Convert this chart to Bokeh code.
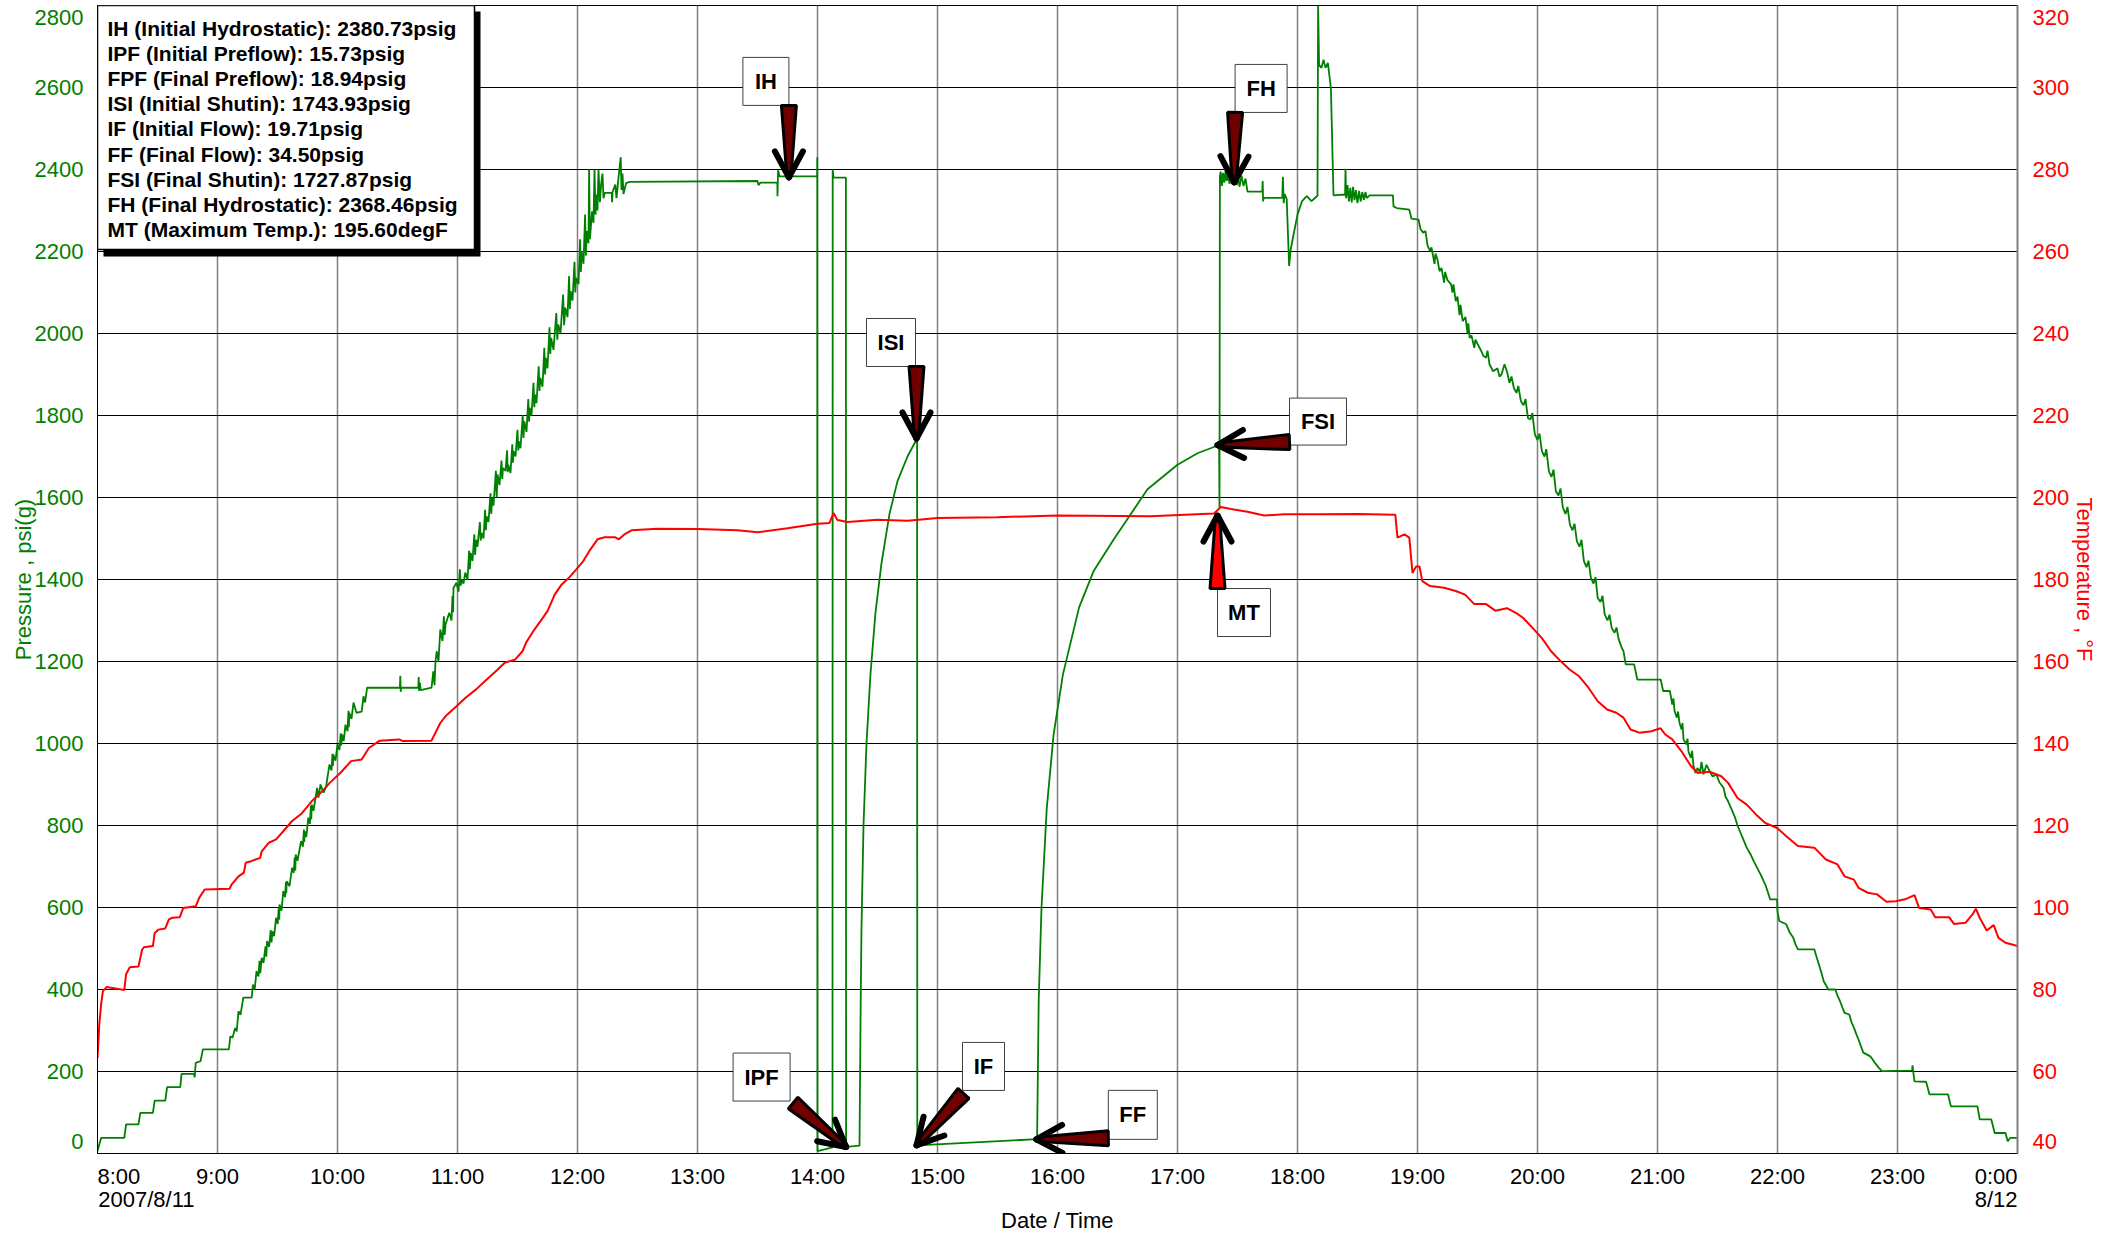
import numpy as np
from bokeh.plotting import figure
from bokeh.models import Range1d, LinearAxis, FixedTicker
from bokeh.embed import file_html
from bokeh.resources import INLINE
from bokeh.core.properties import value

# ---------------- data ----------------
hour_ticks = list(range(8, 25))
hour_labels = [f"{h % 24}:00" for h in hour_ticks]
date_start = "2007/8/11"
date_end = "8/12"
psi_ticks = list(range(0, 2801, 200))
temp_ticks = list(range(40, 321, 20))

pressure_run_in = [
    ("8:00", 6), ("8:00.9", 22), ("8:01.8", 38), ("8:13.4", 38), ("8:14.3", 71), ("8:20.5", 71),
    ("8:21.4", 99), ("8:27.7", 99), ("8:28.6", 129), ("8:33.9", 129), ("8:34.8", 162), ("8:41.4", 162),
    ("8:42.0", 194), ("8:48.2", 194), ("8:48.6", 186), ("8:49.1", 221), ("8:51.5", 225), ("8:52.7", 254),
    ("9:05.7", 254), ("9:06.4", 286), ("9:07.5", 282), ("9:08.8", 306), ("9:09.6", 298), ("9:10.5", 347),
    ("9:11.5", 338), ("9:12.9", 380), ("9:17.1", 380), ("9:17.7", 412), ("9:18.6", 400), ("9:19.5", 445),
    ("9:20.5", 432), ("9:21.0", 470), ("9:21.4", 440), ("9:22.1", 477), ("9:23.0", 465), ("9:24.0", 505),
    ("9:24.4", 480), ("9:24.8", 518), ("9:25.8", 504), ("9:26.6", 545), ("9:27.0", 515), ("9:27.5", 542),
    ("9:28.3", 530), ("9:29.3", 575), ("9:30.1", 560), ("9:30.6", 598), ("9:30.9", 570), ("9:31.0", 607),
    ("9:32.0", 592), ("9:32.9", 640), ("9:33.8", 625), ("9:34.2", 662), ("9:34.4", 635), ("9:34.6", 664),
    ("9:36.0", 652), ("9:37.3", 697), ("9:38.1", 684), ("9:38.6", 722), ("9:38.9", 690), ("9:39.1", 729),
    ("9:40.0", 714), ("9:41.8", 762), ("9:42.7", 748), ("9:43.2", 790), ("9:43.4", 760), ("9:43.6", 786),
    ("9:44.4", 772), ("9:45.4", 819), ("9:46.2", 804), ("9:46.7", 848), ("9:46.9", 815), ("9:47.1", 851),
    ("9:48.0", 836), ("9:49.8", 892), ("9:50.5", 868), ("9:51.5", 900), ("9:53.0", 880), ("9:54.3", 895),
    ("9:55.0", 918), ("9:56.0", 949), ("9:57.0", 934), ("9:57.5", 975), ("9:57.7", 945), ("9:57.9", 973),
    ("9:59.0", 958), ("10:00.0", 998), ("10:01.0", 984), ("10:01.6", 1025), ("10:01.9", 995),
    ("10:02.3", 1022), ("10:03.1", 1006), ("10:04.0", 1046), ("10:05.0", 1030), ("10:05.5", 1080),
    ("10:05.7", 1040), ("10:05.9", 1075), ("10:07.0", 1060), ("10:08.0", 1100), ("10:09.5", 1075),
    ("10:12.1", 1078), ("10:13.0", 1115), ("10:13.8", 1100), ("10:14.8", 1136),
    ("10:31.2", 1136), ("10:31.4", 1165), ("10:31.6", 1126), ("10:31.8", 1136), ("10:40.4", 1136),
    ("10:40.6", 1162), ("10:40.8", 1128), ("10:41.2", 1148), ("10:41.6", 1130), ("10:47.0", 1136),
    ("10:47.9", 1176), ("10:48.5", 1142), ("10:49.0", 1200), ("10:49.6", 1225),
]
pressure_ramp = [
    ("10:50.5", 1200), ("10:51.4", 1278), ("10:52.5", 1250), ("10:53.2", 1310), ("10:53.6", 1265),
    ("10:54.0", 1290), ("10:55.9", 1319), ("10:57.0", 1300), ("10:57.5", 1360), ("10:57.8", 1320),
    ("10:58.0", 1380), ("10:59.5", 1392), ("11:00.5", 1370), ("11:01.2", 1425), ("11:01.6", 1385),
    ("11:02.1", 1400), ("11:03.0", 1390), ("11:03.9", 1417), ("11:05.0", 1400), ("11:05.8", 1470),
    ("11:06.2", 1425), ("11:06.6", 1465), ("11:07.5", 1445), ("11:08.4", 1510), ("11:08.8", 1460),
    ("11:09.3", 1497), ("11:10.0", 1480), ("11:11.2", 1540), ("11:11.6", 1495), ("11:12.0", 1514),
    ("11:13.0", 1500), ("11:13.8", 1570), ("11:14.2", 1520), ("11:14.6", 1554), ("11:15.5", 1540),
    ("11:16.5", 1610), ("11:16.9", 1560), ("11:17.3", 1599), ("11:18.0", 1580), ("11:19.2", 1665),
    ("11:19.6", 1600), ("11:20.0", 1656), ("11:21.0", 1630), ("11:22.0", 1690), ("11:22.4", 1645),
    ("11:22.7", 1672), ("11:24.0", 1665), ("11:24.8", 1715), ("11:25.1", 1662), ("11:25.4", 1680),
    ("11:26.5", 1660), ("11:27.4", 1730), ("11:27.7", 1685), ("11:28.0", 1713), ("11:29.0", 1700),
    ("11:30.0", 1765), ("11:30.4", 1715), ("11:30.7", 1737), ("11:31.5", 1720), ("11:32.6", 1800),
    ("11:33.0", 1745), ("11:33.4", 1786), ("11:34.5", 1760), ("11:35.4", 1840), ("11:35.8", 1785),
    ("11:36.1", 1819), ("11:37.0", 1800), ("11:38.0", 1880), ("11:38.4", 1820), ("11:38.8", 1851),
    ("11:39.5", 1830), ("11:40.6", 1920), ("11:41.0", 1860), ("11:41.4", 1892), ("11:42.5", 1870),
    ("11:43.4", 1965), ("11:43.8", 1900), ("11:44.1", 1941), ("11:45.0", 1915), ("11:46.0", 2015),
    ("11:46.4", 1950), ("11:46.8", 1989), ("11:48.0", 1960), ("11:49.4", 2050), ("11:49.9", 1985),
    ("11:50.4", 2022), ("11:51.5", 2000), ("11:52.8", 2095), ("11:53.3", 2020), ("11:53.9", 2063),
    ("11:55.0", 2040), ("11:55.8", 2140), ("11:56.2", 2060), ("11:56.6", 2103), ("11:57.5", 2080),
    ("11:58.5", 2175), ("11:58.9", 2100), ("11:59.3", 2136), ("12:00.5", 2120), ("12:01.3", 2230),
    ("12:01.7", 2150), ("12:02.0", 2201), ("12:03.0", 2170), ("12:03.8", 2290), ("12:04.2", 2190),
    ("12:04.6", 2250), ("12:05.5", 2220), ("12:05.8", 2400), ("12:06.2", 2230), ("12:07.3", 2298),
    ("12:08.0", 2270), ("12:08.5", 2400), ("12:09.0", 2290), ("12:09.6", 2339), ("12:10.0", 2300),
    ("12:10.5", 2400), ("12:11.2", 2320), ("12:11.8", 2363), ("12:12.5", 2390), ("12:13.0", 2330),
    ("12:13.6", 2343), ("12:17.1", 2343), ("12:17.3", 2320), ("12:17.5", 2345), ("12:18.9", 2363),
    ("12:19.5", 2330), ("12:20.5", 2380), ("12:21.6", 2430), ("12:22.0", 2350), ("12:22.5", 2390),
    ("12:23.0", 2340), ("12:24.3", 2367), ("12:26.0", 2370),
]
pressure_tests = [
    ("13:30.0", 2372), ("13:30.5", 2362), ("13:31.5", 2368), ("13:39.9", 2368), ("13:40.0", 2335),
    ("13:40.3", 2398), ("13:41.0", 2383), ("13:59.8", 2383), ("13:59.9", 2430), ("14:00.0", 6),
    ("14:07.5", 15), ("14:07.6", 2400), ("14:08.0", 2380), ("14:14.2", 2380), ("14:14.3", 16),
    ("14:21.0", 19), ("14:21.6", 372), ("14:22.0", 550), ("14:23.0", 800), ("14:24.5", 1000),
    ("14:26.5", 1170), ("14:29.0", 1320), ("14:32.0", 1440), ("14:36.0", 1560), ("14:40.0", 1640),
    ("14:45.0", 1700), ("14:49.8", 1744), ("14:49.9", 20), ("15:49.8", 35), ("15:50.6", 372),
    ("15:52.0", 600), ("15:54.6", 840), ("15:58.0", 1020), ("16:02.7", 1168), ("16:10.8", 1332),
    ("16:18.0", 1420), ("16:28.0", 1497), ("16:45.0", 1620), ("17:00.0", 1680), ("17:10.0", 1708),
    ("17:20.8", 1728), ("17:21.0", 1575),
]
pressure_final = [
    ("17:21.2", 2384), ("17:21.6", 2395), ("17:22.2", 2360), ("17:22.8", 2392), ("17:23.4", 2368),
    ("17:24.0", 2396), ("17:24.6", 2372), ("17:25.3", 2390), ("17:26.0", 2365), ("17:26.8", 2385),
    ("17:27.5", 2372), ("17:28.3", 2370), ("17:29.0", 2392), ("17:29.6", 2362), ("17:30.3", 2380),
    ("17:31.0", 2358), ("17:32.0", 2385), ("17:33.0", 2360), ("17:34.0", 2378), ("17:35.0", 2346),
    ("17:42.4", 2346), ("17:42.6", 2372), ("17:42.8", 2322), ("17:43.1", 2331), ("17:52.4", 2331),
    ("17:52.7", 2382), ("17:53.1", 2318), ("17:53.6", 2340), ("17:54.6", 2328), ("17:55.8", 2165),
    ("17:56.6", 2205), ("17:57.7", 2233), ("18:00.0", 2290), ("18:02.3", 2323), ("18:04.6", 2335),
    ("18:07.0", 2323), ("18:09.3", 2333), ("18:10.0", 2336), ("18:10.3", 2800), ("18:10.8", 2655),
    ("18:12.0", 2648), ("18:13.0", 2668), ("18:14.0", 2648), ("18:15.2", 2660), ("18:16.7", 2598),
    ("18:18.0", 2337), ("18:23.8", 2339), ("18:24.0", 2402), ("18:24.3", 2330), ("18:25.0", 2362),
    ("18:25.7", 2322), ("18:26.4", 2355), ("18:27.1", 2320), ("18:27.8", 2358), ("18:28.5", 2325),
    ("18:29.2", 2350), ("18:30.0", 2318), ("18:30.8", 2348), ("18:31.6", 2322), ("18:32.4", 2345),
    ("18:33.2", 2326), ("18:34.0", 2345), ("18:34.6", 2330), ("18:36.0", 2337), ("18:47.7", 2337),
    ("18:48.0", 2310), ("18:49.6", 2306), ("18:55.9", 2302), ("18:57.0", 2280), ("19:00.5", 2278),
]
pressure_pull_out = [
    ("19:01.5", 2255), ("19:02.8", 2246), ("19:04.0", 2250), ("19:05.0", 2215), ("19:06.3", 2201),
    ("19:07.0", 2210), ("19:08.5", 2170), ("19:09.0", 2195), ("19:10.0", 2180), ("19:11.0", 2152),
    ("19:12.0", 2160), ("19:13.3", 2124), ("19:13.8", 2150), ("19:15.0", 2130), ("19:16.8", 2120),
    ("19:17.5", 2100), ("19:18.0", 2120), ("19:19.1", 2079), ("19:20.0", 2090), ("19:21.0", 2045),
    ("19:21.5", 2070), ("19:22.6", 2030), ("19:24.0", 2040), ("19:25.0", 2000), ("19:25.4", 2025),
    ("19:26.1", 1989), ("19:27.0", 1995), ("19:28.4", 1965), ("19:29.0", 1985), ("19:30.0", 1975),
    ("19:31.9", 1957), ("19:33.0", 1945), ("19:34.3", 1941), ("19:35.0", 1958), ("19:36.0", 1925),
    ("19:37.8", 1908), ("19:40.0", 1915), ("19:41.0", 1895), ("19:42.0", 1900), ("19:43.5", 1925),
    ("19:44.7", 1908), ("19:46.0", 1880), ("19:47.0", 1895), ("19:48.2", 1867), ("19:49.5", 1855),
    ("19:50.4", 1872), ("19:51.7", 1835), ("19:53.0", 1825), ("19:54.0", 1840), ("19:55.2", 1794),
    ("19:56.5", 1790), ("19:57.4", 1806), ("19:58.7", 1754), ("20:00.0", 1740), ("20:01.0", 1756),
    ("20:02.2", 1713), ("20:03.5", 1700), ("20:04.4", 1718), ("20:05.7", 1664), ("20:07.0", 1650),
    ("20:08.0", 1668), ("20:09.2", 1615), ("20:10.5", 1605), ("20:11.5", 1622), ("20:12.7", 1575),
    ("20:14.0", 1560), ("20:15.0", 1577), ("20:16.2", 1534), ("20:17.5", 1520), ("20:18.5", 1536),
    ("20:19.7", 1493), ("20:21.0", 1480), ("20:22.0", 1497), ("20:23.2", 1445), ("20:24.5", 1430),
    ("20:25.5", 1446), ("20:26.7", 1404), ("20:28.0", 1390), ("20:29.0", 1406), ("20:30.1", 1355),
    ("20:31.5", 1345), ("20:32.5", 1360), ("20:33.6", 1315), ("20:35.0", 1300), ("20:36.0", 1314),
    ("20:37.1", 1282), ("20:38.5", 1270), ("20:39.5", 1283), ("20:40.6", 1254), ("20:42.0", 1235),
    ("20:43.0", 1225), ("20:44.1", 1193), ("20:48.3", 1193), ("20:49.9", 1156), ("21:01.6", 1156),
    ("21:02.8", 1128), ("21:06.2", 1128), ("21:07.4", 1095), ("21:08.0", 1110), ("21:08.5", 1080),
    ("21:09.7", 1063), ("21:10.3", 1078), ("21:11.0", 1050), ("21:12.0", 1034), ("21:12.5", 1050),
    ("21:13.0", 1010), ("21:14.4", 998), ("21:15.0", 1012), ("21:15.5", 980), ("21:16.7", 965),
    ("21:17.3", 982), ("21:18.0", 945), ("21:19.0", 928), ("21:20.0", 940), ("21:21.3", 930),
    ("21:22.0", 955), ("21:23.0", 925), ("21:24.5", 948), ("21:26.0", 933), ("21:27.5", 920),
    ("21:29.5", 924), ("21:31.0", 905), ("21:33.0", 892), ("21:34.0", 870), ("21:35.3", 859),
    ("21:37.0", 840), ("21:38.8", 819), ("21:40.0", 800), ("21:41.2", 786), ("21:43.0", 765),
    ("21:44.6", 746), ("21:46.5", 730), ("21:48.1", 713), ("21:50.0", 695), ("21:51.6", 680),
    ("21:53.0", 665), ("21:53.9", 656), ("21:55.0", 640), ("21:56.3", 620), ("21:59.8", 620),
    ("22:00.0", 590), ("22:00.9", 567), ("22:04.4", 559), ("22:06.0", 540), ("22:07.9", 526),
    ("22:09.0", 510), ("22:10.2", 498), ("22:18.4", 498), ("22:19.5", 480), ("22:20.7", 461),
    ("22:22.0", 440), ("22:23.1", 420), ("22:25.4", 400), ("22:28.9", 400), ("22:30.0", 385),
    ("22:31.2", 372), ("22:33.5", 343), ("22:35.9", 339), ("22:37.0", 320), ("22:38.2", 307),
    ("22:39.5", 290), ("22:40.5", 278), ("22:42.9", 246), ("22:46.4", 237), ("22:47.5", 230),
    ("22:48.7", 221), ("22:50.5", 210), ("22:52.2", 201), ("23:07.3", 202), ("23:07.5", 215),
    ("23:08.0", 195), ("23:08.5", 176), ("23:14.3", 175), ("23:16.0", 144), ("23:25.3", 144),
    ("23:26.7", 115), ("23:40.0", 115), ("23:41.1", 83), ("23:46.9", 83), ("23:48.6", 50),
    ("23:54.0", 50), ("23:55.1", 30), ("23:56.3", 38), ("24:00.0", 38),
]

temp_run_in = [
    ("8:00", 63.3), ("8:00.9", 71.5), ("8:01.8", 76.3), ("8:02.7", 79.6), ("8:04.5", 80.6),
    ("8:13.4", 79.9), ("8:14.3", 83.7), ("8:16.1", 85.4), ("8:20.5", 85.6), ("8:22.3", 89.7),
    ("8:23.2", 90.3), ("8:27.7", 90.6), ("8:28.6", 93.8), ("8:30.4", 94.6), ("8:33.9", 94.9),
    ("8:35.7", 97.1), ("8:37.5", 97.5), ("8:41.1", 97.6), ("8:42.9", 99.9), ("8:49.1", 100.3),
    ("8:50.9", 102.4), ("8:53.6", 104.4), ("9:06.1", 104.6), ("9:07.0", 105.6), ("9:10.5", 107.6),
    ("9:13.2", 108.5), ("9:14.1", 110.9), ("9:16.8", 111.3), ("9:21.3", 112.1), ("9:22.1", 113.7),
    ("9:25.7", 115.8), ("9:29.3", 116.6), ("9:32.9", 118.6), ("9:37.3", 121.1), ("9:41.8", 122.8),
    ("9:47.1", 125.9), ("9:52.5", 128.4), ("9:56.1", 130.4), ("10:01.4", 132.8), ("10:06.8", 135.7),
    ("10:12.1", 136.1), ("10:15.7", 138.9), ("10:21.1", 140.7), ("10:30.9", 141.0), ("10:32.7", 140.6),
    ("10:47.0", 140.7), ("10:51.4", 145.0), ("10:54.1", 146.7), ("10:59.5", 149.1), ("11:03.9", 151.1),
    ("11:09.3", 153.2), ("11:14.6", 155.6), ("11:20.0", 158.0), ("11:23.6", 159.7), ("11:28.9", 160.5),
    ("11:32.5", 162.5), ("11:34.3", 164.6), ("11:37.9", 167.4), ("11:41.4", 169.8), ("11:45.0", 172.3),
    ("11:48.6", 176.3), ("11:52.1", 178.8), ("11:55.7", 180.4), ("11:59.3", 182.4), ("12:02.9", 184.5),
    ("12:06.4", 187.3), ("12:10.0", 189.8), ("12:13.6", 190.3), ("12:18.9", 190.3), ("12:20.7", 189.8),
    ("12:23.4", 191.0), ("12:27.0", 192.0),
]
temp_station = [
    ("12:40", 192.4), ("13:00", 192.3), ("13:20", 192.0), ("13:30", 191.5), ("13:45", 192.5),
    ("14:00", 193.6), ("14:06", 193.8), ("14:08", 196.2), ("14:10", 194.5), ("14:15", 194.0),
    ("14:30", 194.6), ("14:45", 194.3), ("15:00", 195.0), ("15:30", 195.2), ("16:00", 195.6),
    ("16:46.7", 195.4), ("17:18.3", 196.1), ("17:21.7", 197.7), ("17:26.7", 197.2), ("17:35.0", 196.5),
    ("17:43.3", 195.6), ("17:53.3", 195.9), ("18:10.0", 195.9), ("18:30.0", 196.0), ("18:48.9", 195.8),
]
temp_pull_out = [
    ("18:50.0", 190.2), ("18:53.5", 191.0), ("18:55.9", 190.2), ("18:57.5", 181.6), ("18:59.3", 183.2),
    ("19:01.0", 183.2), ("19:02.4", 179.6), ("19:06.3", 178.4), ("19:13.3", 178.0), ("19:19.1", 177.2),
    ("19:23.8", 176.3), ("19:28.4", 174.0), ("19:34.3", 174.0), ("19:38.9", 172.4), ("19:44.7", 173.0),
    ("19:49.4", 171.8), ("19:52.9", 170.6), ("19:57.5", 168.2), ("20:02.2", 165.7), ("20:06.8", 162.5),
    ("20:11.5", 160.1), ("20:16.2", 158.0), ("20:20.8", 156.4), ("20:25.5", 153.6), ("20:30.1", 150.3),
    ("20:34.8", 148.3), ("20:39.4", 147.5), ("20:43.0", 146.3), ("20:46.5", 143.4), ("20:51.2", 142.6),
    ("20:56.9", 143.0), ("21:01.6", 143.7), ("21:03.9", 142.2), ("21:07.4", 141.0), ("21:12.0", 138.1),
    ("21:16.7", 134.5), ("21:20.2", 132.8), ("21:26.0", 133.1), ("21:31.9", 132.0), ("21:35.3", 130.4),
    ("21:40.0", 126.7), ("21:44.6", 125.1), ("21:49.2", 122.7), ("21:53.9", 120.6), ("21:59.8", 119.4),
    ("22:04.4", 117.4), ("22:10.2", 115.0), ("22:18.4", 114.6), ("22:24.2", 111.7), ("22:30.0", 110.5),
    ("22:33.5", 107.6), ("22:38.2", 106.8), ("22:40.5", 104.8), ("22:45.2", 103.6), ("22:49.8", 103.2),
    ("22:54.5", 101.4), ("22:59.1", 101.5), ("23:03.8", 102.0), ("23:08.5", 103.0), ("23:10.8", 99.9),
    ("23:16.6", 99.5), ("23:18.9", 97.6), ("23:25.9", 97.6), ("23:28.2", 96.0), ("23:34.1", 96.3),
    ("23:37.5", 98.3), ("23:39.2", 99.7), ("23:41.1", 97.5), ("23:44.6", 94.4), ("23:48.1", 95.7),
    ("23:50.5", 92.6), ("23:54.0", 91.4), ("24:00.0", 90.6),
]

info_codes = ["IH", "IPF", "FPF", "ISI", "IF", "FF", "FSI", "FH", "MT"]
info_names = ["Initial Hydrostatic", "Initial Preflow", "Final Preflow", "Initial Shutin",
              "Initial Flow", "Final Flow", "Final Shutin", "Final Hydrostatic", "Maximum Temp."]
info_values = [2380.73, 15.73, 18.94, 1743.93, 19.71, 34.50, 1727.87, 2368.46, 195.60]
info_units = ["psig", "psig", "psig", "psig", "psig", "psig", "psig", "psig", "degF"]

marker_codes = ["IH", "IPF", "ISI", "IF", "FF", "FSI", "FH", "MT"]
marker_times = ["13:45.7", "14:14.3", "14:49.5", "14:49.5", "15:49.4", "17:20.0", "17:28.3", "17:20.0"]

# ---------------- layout (screen pixels) ----------------
GREEN = "#008000"
RED = "#FF0000"
FONT = "Liberation Sans"
W, H = 2114, 1237
BL, BR, BT, BB = 97, 97, 5, 84
FW, FH = W - BL - BR, H - BT - BB
X0, X1 = 8, 24
P0, P1 = 0, 2800
T0, T1 = 40, 320
HPX = (X1 - X0) / FW
PPX = (P1 - P0) / FH
TPX = (T1 - T0) / FH
NB = "\u00a0"
EDGE = 12  # end tick labels sit this many px inside the frame edge

# arrow tail offset and box (left, right, top, bottom) relative to the tip, px (y down)
marker_layout = {
    "IH": ((0, -72), (-46, 0, -120, -72), "#700000"),
    "IPF": ((-53, -44), (-113, -56, -94, -46), "#700000"),
    "ISI": ((0, -72), (-50, -1, -120, -72), "#700000"),
    "IF": ((47, -52), (46, 88, -103, -55), "#700000"),
    "FF": ((72, -1), (72, 121, -49, 0), "#700000"),
    "FSI": ((72, -3), (72, 129, -47, 0), "#700000"),
    "FH": ((1, -70), (1, 53, -118, -70), "#700000"),
    "MT": ((0, 73), (0, 53, 73, 121), "#FF0000"),
}


def to_hours(s):
    h, m = s.split(":")
    return int(h) + float(m) / 60.0


def series(*segs):
    pts = [pt for seg in segs for pt in seg]
    return [to_hours(t) for t, _ in pts], [v for _, v in pts]


def inset_ticks(ticks, per_px):
    # label positions: end labels nudged inside the frame; returns ticker values and overrides
    d = int(round(EDGE * per_px))
    pos = [ticks[0] + d] + ticks[1:-1] + [ticks[-1] - d]
    return pos, {q: str(t) for q, t in zip(pos, ticks)}


p_x, p_y = series(pressure_run_in, pressure_ramp, pressure_tests, pressure_final, pressure_pull_out)
t_x, t_y = series(temp_run_in, temp_station, temp_pull_out)

p = figure(width=W, height=H, x_range=Range1d(X0, X1), y_range=Range1d(P0, P1),
           output_backend="svg", toolbar_location=None,
           min_border_left=BL, min_border_right=BR, min_border_top=BT, min_border_bottom=BB)
p.extra_y_ranges = {"temp": Range1d(T0, T1)}
p.outline_line_color = "black"
p.outline_line_width = 1
p.background_fill_color = "white"
p.border_fill_color = "white"

# x axis labels: first / last tick carry the date and are aligned inside the frame
x_over = {h: lab for h, lab in zip(hour_ticks, hour_labels)}
x_over[X0] = NB * 7 + hour_labels[0] + "\n" + NB * 16 + date_start
x_over[X1] = hour_labels[-1] + NB * 7 + "\n" + date_end + NB * 7

xa = p.xaxis[0]
xa.ticker = FixedTicker(ticks=hour_ticks)
xa.major_label_overrides = x_over
xa.axis_label = "Date / Time"

psi_pos, psi_over = inset_ticks(psi_ticks, PPX)
ya = p.yaxis[0]
ya.ticker = FixedTicker(ticks=psi_pos)
ya.major_label_overrides = psi_over
ya.axis_label = "Pressure , psi(g)"

temp_pos, temp_over = inset_ticks(temp_ticks, TPX)
ra = LinearAxis(y_range_name="temp", axis_label="Temperature , °F")
ra.ticker = FixedTicker(ticks=temp_pos)
ra.major_label_overrides = temp_over
p.add_layout(ra, "right")

for ax, col in ((xa, "black"), (ya, GREEN), (ra, RED)):
    ax.major_tick_out = 0
    ax.major_tick_in = 0
    ax.minor_tick_out = 0
    ax.minor_tick_in = 0
    ax.major_label_text_font = FONT
    ax.major_label_text_font_size = "22px"
    ax.major_label_text_color = col
    ax.axis_label_text_font = FONT
    ax.axis_label_text_font_size = "22px"
    ax.axis_label_text_font_style = "normal"
    ax.axis_label_text_color = col
    ax.axis_line_color = "black"
xa.major_label_text_line_height = 0.93
ra.axis_line_color = "#808080"
ra.axis_line_width = 2
xa.major_label_standoff = 10
xa.axis_label_standoff = -7
ya.major_label_standoff = 14
ya.axis_label_standoff = -4
ra.major_label_standoff = 15
ra.axis_label_standoff = 0

p.xgrid.grid_line_color = "#808080"
p.xgrid.grid_line_width = 1.5
p.ygrid.ticker = FixedTicker(ticks=psi_ticks)
p.ygrid.grid_line_color = "black"
p.ygrid.grid_line_width = 1

# series
p.line(p_x, p_y, line_color=GREEN, line_width=1.8)
p.line(t_x, t_y, line_color=RED, line_width=2, y_range_name="temp")

# info box
bx_r, bx_b, sh = 377, 244, 6
p.quad(left=[X0 + sh * HPX], right=[X0 + (bx_r + sh) * HPX], top=[P1 - sh * PPX],
       bottom=[P1 - (bx_b + sh + 1) * PPX], fill_color="black", line_color=None)
p.quad(left=[X0], right=[X0 + bx_r * HPX], top=[P1], bottom=[P1 - bx_b * PPX],
       fill_color="white", line_color="black", line_width=1.5)
info_lines = [f"{c} ({n}): {v:.2f}{u}" for c, n, v, u in zip(info_codes, info_names, info_values, info_units)]
p.text(x=[X0 + 10 * HPX] * len(info_lines), y=[P1 - (23 + 25.1 * i) * PPX for i in range(len(info_lines))],
       text=info_lines, text_font=value(FONT), text_font_style="bold", text_font_size="21px",
       text_baseline="middle", text_align="left", text_color="black")

# markers: boxes, arrows, labels
box_l, box_r, box_t, box_b, box_cx, box_cy = [], [], [], [], [], []
shaft_xs, shaft_ys, shaft_cols, head_xs, head_ys = [], [], [], [], []
for code, tstr in zip(marker_codes, marker_times):
    tx = to_hours(tstr)
    v = info_values[info_codes.index(code)]
    ty = (v - T0) / (T1 - T0) * (P1 - P0) if code == "MT" else v
    (tdx, tdy), (l, r, t, b), col = marker_layout[code]
    box_l.append(tx + l * HPX); box_r.append(tx + r * HPX)
    box_t.append(ty - t * PPX); box_b.append(ty - b * PPX)
    box_cx.append(tx + (l + r) / 2 * HPX); box_cy.append(ty - (t + b) / 2 * PPX)
    S = np.array([tdx, tdy], float)
    u = -S / np.linalg.norm(S)
    n = np.array([-u[1], u[0]])
    w0, w1 = 15, 4
    poly = [S + n * w0 / 2, n * w1 / 2, -n * w1 / 2, S - n * w0 / 2]
    shaft_xs.append([tx + q[0] * HPX for q in poly])
    shaft_ys.append([ty - q[1] * PPX for q in poly])
    shaft_cols.append(col)
    hl, hw = 26, 14
    for sgn in (1, -1):
        e = -u * hl + sgn * n * hw
        head_xs.append([tx, tx + e[0] * HPX])
        head_ys.append([ty, ty - e[1] * PPX])

p.quad(left=box_l, right=box_r, top=box_t, bottom=box_b, fill_color="white",
       line_color="#404040", line_width=1)
p.patches(shaft_xs, shaft_ys, fill_color=shaft_cols, line_color="black", line_width=3)
p.multi_line(head_xs, head_ys, line_color="black", line_width=6, line_cap="round")
p.text(x=box_cx, y=box_cy, text=marker_codes, text_font=value(FONT), text_font_style="bold",
       text_font_size="22px", text_align="center", text_baseline="middle", text_color="black")

open("out.html", "w").write(file_html(p, INLINE))
